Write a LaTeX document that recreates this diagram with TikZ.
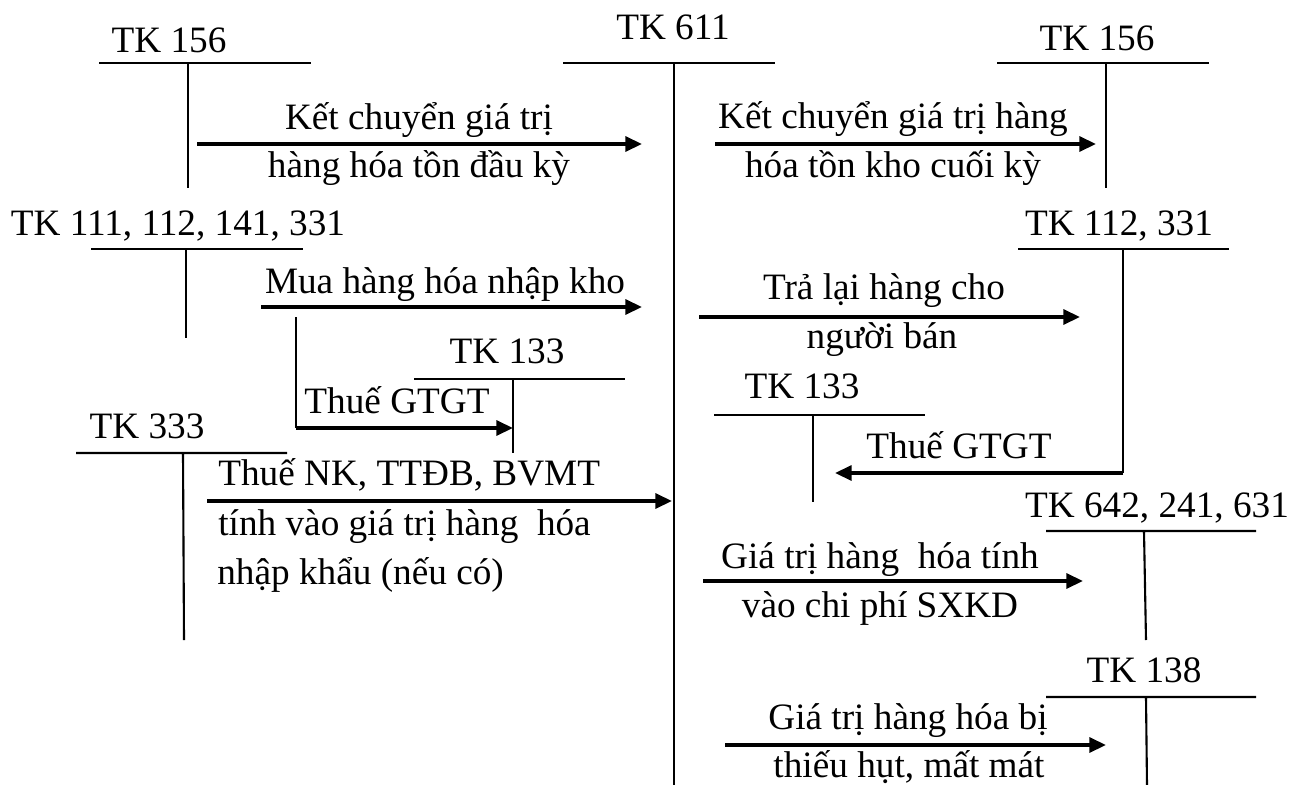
\documentclass[tikz,border=0pt]{standalone}
\usepackage{fontspec}
\setmainfont{Liberation Serif}
\usetikzlibrary{arrows.meta}

\begin{document}
\begin{tikzpicture}[x=0.02cm,y=-0.02cm,
    acc/.style={line width=1.2pt},
    flow/.style={line width=1.9pt,-{Triangle[length=9.5pt,width=8.5pt]}},
    lbl/.style={anchor=base,inner sep=0pt,font=\fontsize{21.2}{25}\selectfont},
    lblw/.style={lbl,anchor=base west}]
    \useasboundingbox (0,0) rectangle (1303,785);

    % Account names
    \node[lbl] (tk156a) at (169,52) {TK 156};
    \node[lbl] (tk611) at (673,39) {TK 611};
    \node[lbl] (tk156b) at (1097,50) {TK 156};
    \node[lbl] (tk111) at (178,235) {TK 111, 112, 141, 331};
    \node[lbl] (tk112) at (1119,235) {TK 112, 331};
    \node[lbl] (tk133a) at (507,363) {TK 133};
    \node[lbl] (tk133b) at (802,398) {TK 133};
    \node[lbl] (tk333) at (147,438) {TK 333};
    \node[lbl] (tk642) at (1157,517) {TK 642, 241, 631};
    \node[lbl] (tk138) at (1144,682) {TK 138};

    % T accounts
    \draw[acc] (99,63) -- (311,63) (188,63) -- (188,188);
    \draw[acc] (563,63) -- (775,63) (674,63) -- (674,785);
    \draw[acc] (997,63) -- (1209,63) (1106,63) -- (1106,188);
    \draw[acc] (91,249) -- (303,249) (186,249) -- (186,338);
    \draw[acc] (1018,249) -- (1229,249) (1123,249) -- (1123,473);
    \draw[acc] (414,379) -- (625,379) (513,379) -- (513,453);
    \draw[acc] (714,415) -- (925,415) (813,415) -- (813,502);
    \draw[acc] (76,453) -- (287,453) (183,453) -- (184,640);
    \draw[acc] (1046,531) -- (1256,531) (1144,531) -- (1146,640);
    \draw[acc] (1046,697) -- (1256,697) (1146,697) -- (1147,785);

    % Arrow ends
    \coordinate (a1s) at (197,144);  \coordinate (a1e) at (642,144);
    \coordinate (a2s) at (715,144);  \coordinate (a2e) at (1096,144);
    \coordinate (a3s) at (261,307);  \coordinate (a3e) at (642,307);
    \coordinate (a4s) at (699,317);  \coordinate (a4e) at (1080,317);
    \coordinate (a5t) at (296,317);  \coordinate (a5s) at (296,428);
    \coordinate (a5e) at (513,428);
    \coordinate (a6s) at (1123,473); \coordinate (a6e) at (835,473);
    \coordinate (a7s) at (207,501);  \coordinate (a7e) at (672,501);
    \coordinate (a8s) at (703,581);  \coordinate (a8e) at (1083,581);
    \coordinate (a9s) at (725,745);  \coordinate (a9e) at (1106,745);

    % Flows
    \draw[flow] (a1s) -- (a1e);
    \draw[flow] (a2s) -- (a2e);
    \draw[flow] (a3s) -- (a3e);
    \draw[flow] (a4s) -- (a4e);
    \draw[acc] (a5t) -- (a5s);
    \draw[flow] (a5s) -- (a5e);
    \draw[flow] (a6s) -- (a6e);
    \draw[flow] (a7s) -- (a7e);
    \draw[flow] (a8s) -- (a8e);
    \draw[flow] (a9s) -- (a9e);

    % Flow texts
    \node[lbl] (l1a) at (419,129) {Kết chuyển giá trị};
    \node[lbl] (l1b) at (419,177) {hàng hóa tồn đầu kỳ};
    \node[lbl] (l2a) at (893,128) {Kết chuyển giá trị hàng};
    \node[lbl] (l2b) at (893,177) {hóa tồn kho cuối kỳ};
    \node[lbl] (l3) at (445,293) {Mua hàng hóa nhập kho};
    \node[lbl] (l4a) at (884,299) {Trả lại hàng cho};
    \node[lbl] (l4b) at (882,348) {người bán};
    \node[lbl] (l5) at (397,413) {Thuế GTGT};
    \node[lbl] (l6) at (959,458) {Thuế GTGT};
    \node[lblw] (l7a) at (218,485) {Thuế NK, TTĐB, BVMT};
    \node[lblw] (l7b) at (218,535) {tính vào giá trị hàng~~hóa};
    \node[lblw] (l7c) at (217,584) {nhập khẩu (nếu có)};
    \node[lbl] (l8a) at (880,568) {Giá trị hàng~~hóa tính};
    \node[lbl] (l8b) at (880,617) {vào chi phí SXKD};
    \node[lbl] (l9a) at (908,729) {Giá trị hàng hóa bị};
    \node[lbl] (l9b) at (909,777) {thiếu hụt, mất mát};
\end{tikzpicture}
\end{document}
